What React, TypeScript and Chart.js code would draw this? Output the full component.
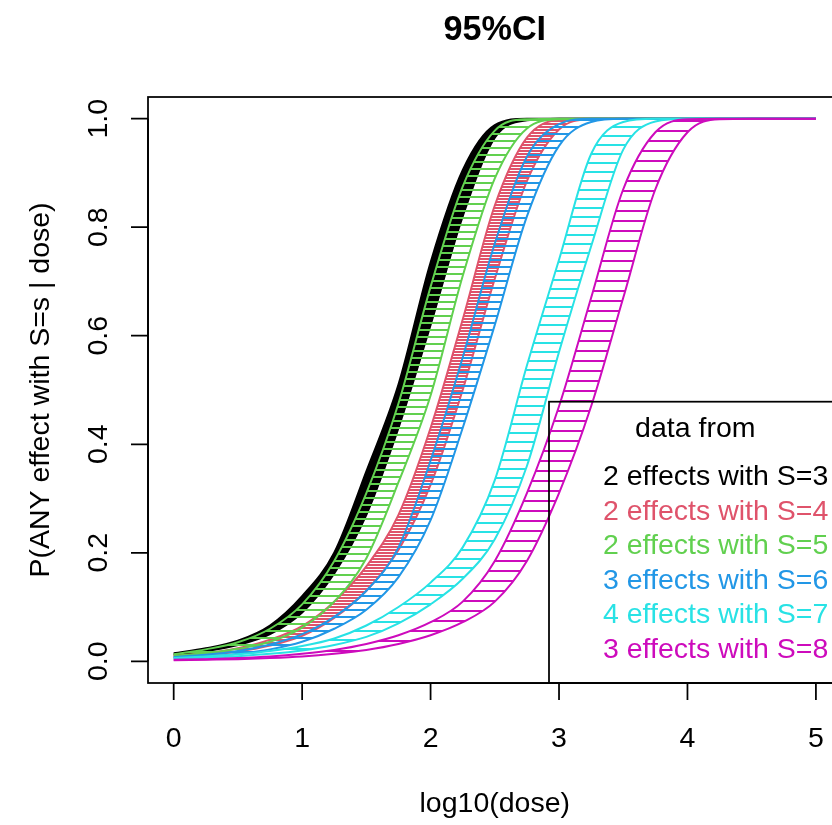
import React, { useEffect, useRef } from "react";
import { Chart, registerables } from "chart.js";

Chart.register(...registerables);

// log10(dose) grid
const doseGrid = [0, 0.25, 0.5, 0.75, 1, 1.25, 1.5, 1.75, 2, 2.25, 2.5, 2.75, 3, 3.25, 3.5, 3.75, 4, 4.25, 4.5, 4.75, 5];

// upper / lower 95% CI curves of P(ANY effect with S=s | dose)
const s3Upper = [0.015, 0.024, 0.038, 0.066, 0.12, 0.2, 0.35, 0.51, 0.735, 0.905, 0.988, 1, 1, 1, 1, 1, 1, 1, 1, 1, 1];
const s3Lower = [0.012, 0.019, 0.03, 0.05, 0.09, 0.162, 0.27, 0.43, 0.62, 0.82, 0.965, 0.997, 1, 1, 1, 1, 1, 1, 1, 1, 1];
const s4Upper = [0.01, 0.015, 0.024, 0.04, 0.065, 0.11, 0.175, 0.27, 0.43, 0.63, 0.84, 0.965, 0.998, 1, 1, 1, 1, 1, 1, 1, 1];
const s4Lower = [0.008, 0.012, 0.018, 0.029, 0.047, 0.08, 0.13, 0.205, 0.325, 0.5, 0.705, 0.885, 0.98, 0.999, 1, 1, 1, 1, 1, 1, 1];
const s5Upper = [0.013, 0.022, 0.035, 0.06, 0.105, 0.185, 0.31, 0.475, 0.69, 0.875, 0.978, 0.999, 1, 1, 1, 1, 1, 1, 1, 1, 1];
const s5Lower = [0.01, 0.015, 0.023, 0.036, 0.062, 0.11, 0.19, 0.33, 0.49, 0.71, 0.89, 0.982, 0.999, 1, 1, 1, 1, 1, 1, 1, 1];
const s6Upper = [0.008, 0.012, 0.019, 0.031, 0.05, 0.082, 0.13, 0.21, 0.37, 0.56, 0.77, 0.93, 0.99, 1, 1, 1, 1, 1, 1, 1, 1];
const s6Lower = [0.006, 0.009, 0.014, 0.022, 0.036, 0.06, 0.095, 0.155, 0.26, 0.43, 0.62, 0.82, 0.95, 0.994, 1, 1, 1, 1, 1, 1, 1];
const s7Upper = [0.006, 0.009, 0.013, 0.019, 0.028, 0.042, 0.066, 0.1, 0.145, 0.21, 0.334, 0.545, 0.74, 0.935, 0.994, 1, 1, 1, 1, 1, 1];
const s7Lower = [0.005, 0.0065, 0.0095, 0.0137, 0.02, 0.03, 0.045, 0.07, 0.105, 0.152, 0.225, 0.36, 0.57, 0.765, 0.943, 0.995, 1, 1, 1, 1, 1];
const s8Upper = [0.003, 0.004, 0.006, 0.009, 0.014, 0.021, 0.032, 0.048, 0.072, 0.11, 0.185, 0.31, 0.47, 0.67, 0.87, 0.975, 0.999, 1, 1, 1, 1];
const s8Lower = [0.002, 0.003, 0.004, 0.006, 0.009, 0.014, 0.021, 0.032, 0.048, 0.072, 0.11, 0.185, 0.31, 0.47, 0.67, 0.87, 0.975, 0.999, 1, 1, 1];

const seriesLabels = [
  "2 effects with S=3",
  "2 effects with S=4",
  "2 effects with S=5",
  "3 effects with S=6",
  "4 effects with S=7",
  "3 effects with S=8",
];
const seriesUpper = [s3Upper, s4Upper, s5Upper, s6Upper, s7Upper, s8Upper];
const seriesLower = [s3Lower, s4Lower, s5Lower, s6Lower, s7Lower, s8Lower];
const seriesColors = ["#000000", "#DF536B", "#61D04F", "#2297E6", "#28E2E5", "#CD0BBC"];
const hatchSpacing = [3, 3, 7, 7, 9, 10];
const hatchThickness = [3, 2, 2, 2, 2, 2];

const xTicks = [0, 1, 2, 3, 4, 5];
const xTickLabels = ["0", "1", "2", "3", "4", "5"];
const yTicks = [0, 0.2, 0.4, 0.6, 0.8, 1.0];
const yTickLabels = ["0.0", "0.2", "0.4", "0.6", "0.8", "1.0"];

const chartTitle = "95%CI";
const xTitle = "log10(dose)";
const yTitle = "P(ANY effect with S=s | dose)";
const legendTitle = "data from";

const W = 860;
const H = 825;
const FONT = '"Liberation Sans", Arial, sans-serif';
const FS = 28.5;

function makePattern(ctx: CanvasRenderingContext2D, color: string, spacing: number, thick: number) {
  const c = document.createElement("canvas");
  c.width = 4;
  c.height = spacing;
  const g = c.getContext("2d")!;
  g.fillStyle = color;
  g.fillRect(0, 0, 4, thick);
  return ctx.createPattern(c, "repeat");
}

const rPlotPlugin = {
  id: "rPlot",
  afterDraw(chart: any) {
    const ctx: CanvasRenderingContext2D = chart.ctx;
    const a = chart.chartArea;
    const xs = chart.scales.x;
    const ys = chart.scales.y;
    ctx.save();
    ctx.strokeStyle = "#000";
    ctx.fillStyle = "#000";
    ctx.lineWidth = 1.75;
    // frame
    ctx.strokeRect(a.left, a.top, a.right - a.left, a.bottom - a.top);
    // x axis
    ctx.beginPath();
    ctx.moveTo(xs.getPixelForValue(xTicks[0]), a.bottom);
    ctx.lineTo(xs.getPixelForValue(xTicks[xTicks.length - 1]), a.bottom);
    xTicks.forEach((t) => {
      const px = xs.getPixelForValue(t);
      ctx.moveTo(px, a.bottom);
      ctx.lineTo(px, a.bottom + 17);
    });
    ctx.stroke();
    ctx.font = `${FS}px ${FONT}`;
    ctx.textAlign = "center";
    ctx.textBaseline = "alphabetic";
    xTicks.forEach((t, i) => {
      ctx.fillText(xTickLabels[i], xs.getPixelForValue(t), a.bottom + 64);
    });
    // y axis
    ctx.beginPath();
    ctx.moveTo(a.left, ys.getPixelForValue(yTicks[0]));
    ctx.lineTo(a.left, ys.getPixelForValue(yTicks[yTicks.length - 1]));
    yTicks.forEach((t) => {
      const py = ys.getPixelForValue(t);
      ctx.moveTo(a.left, py);
      ctx.lineTo(a.left - 17, py);
    });
    ctx.stroke();
    yTicks.forEach((t, i) => {
      ctx.save();
      ctx.translate(a.left - 41, ys.getPixelForValue(t));
      ctx.rotate(-Math.PI / 2);
      ctx.fillText(yTickLabels[i], 0, 0);
      ctx.restore();
    });
    // titles
    const cx = (a.left + a.right) / 2;
    const cy = (a.top + a.bottom) / 2;
    ctx.fillText(xTitle, cx, a.bottom + 129);
    ctx.save();
    ctx.translate(49, cy);
    ctx.rotate(-Math.PI / 2);
    ctx.fillText(yTitle, 0, 0);
    ctx.restore();
    ctx.font = `bold ${FS * 1.2}px ${FONT}`;
    ctx.fillText(chartTitle, cx, 40);
    // legend (bottomright)
    const lx = 549;
    const ly = 401.7;
    ctx.strokeRect(lx, ly, a.right - lx, a.bottom - ly);
    ctx.font = `${FS}px ${FONT}`;
    ctx.fillText(legendTitle, (lx + a.right) / 2, 437);
    ctx.textAlign = "left";
    seriesLabels.forEach((lab, i) => {
      ctx.fillStyle = seriesColors[i];
      ctx.fillText(lab, 603, 485 + i * 34.6);
    });
    ctx.restore();
  },
};

export default function App() {
  const ref = useRef<HTMLCanvasElement | null>(null);
  useEffect(() => {
    const canvas = ref.current!;
    const ctx = canvas.getContext("2d")!;
    const datasets: any[] = [];
    seriesLabels.forEach((lab, i) => {
      const ord = 10 - i;
      datasets.push({
        label: lab + " upper",
        data: doseGrid.map((x, j) => ({ x, y: seriesUpper[i][j] })),
        borderColor: seriesColors[i],
        backgroundColor: makePattern(ctx, seriesColors[i], hatchSpacing[i], hatchThickness[i]),
        borderWidth: 2,
        pointRadius: 0,
        cubicInterpolationMode: "monotone",
        fill: "+1",
        order: ord,
      });
      datasets.push({
        label: lab + " lower",
        data: doseGrid.map((x, j) => ({ x, y: seriesLower[i][j] })),
        borderColor: seriesColors[i],
        backgroundColor: "transparent",
        borderWidth: 2,
        pointRadius: 0,
        cubicInterpolationMode: "monotone",
        fill: false,
        order: ord,
      });
    });
    const chart = new Chart(ctx, {
      type: "line",
      data: { datasets },
      options: {
        responsive: false,
        animation: false,
        devicePixelRatio: 1,
        layout: { padding: { left: 148, top: 97, right: W - 841.6, bottom: H - 683 } },
        scales: {
          x: { type: "linear", min: -0.2, max: 5.2, display: false },
          y: { type: "linear", min: -0.04, max: 1.04, display: false },
        },
        plugins: {
          legend: { display: false },
          tooltip: { enabled: false },
          title: { display: false },
        },
      },
      plugins: [rPlotPlugin],
    });
    return () => chart.destroy();
  }, []);
  return (
    <div style={{ position: "fixed", left: 0, top: 0, width: 832, height: 825, overflow: "hidden", background: "#fff" }}>
      <canvas ref={ref} width={W} height={H} style={{ display: "block", width: W, height: H }} />
    </div>
  );
}
